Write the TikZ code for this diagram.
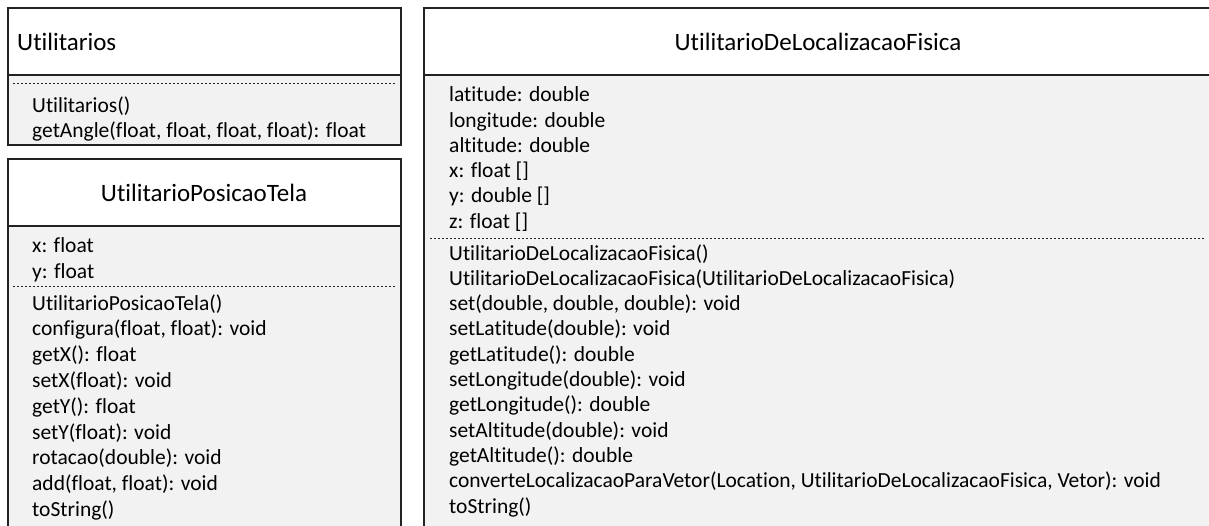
\documentclass[tikz,border=0pt]{standalone}
\usepackage{fontspec}
\setmainfont[Ligatures=NoCommon]{Carlito}
\definecolor{edge}{HTML}{222222}
\definecolor{bodygray}{HTML}{F2F2F2}
\begin{document}
\begin{tikzpicture}[x=1pt,y=-1pt,
  box/.style={draw=edge, line width=2pt},
  sep/.style={draw=edge, line width=0.9pt, dash pattern=on 2.4pt off 1.6pt},
  title/.style={font=\fontsize{25}{30}\selectfont, inner sep=0pt, text=black},
  member/.style={anchor=base west, font=\fontsize{21.5}{25}\selectfont, inner sep=0pt, text=black}]

\clip (0,0) rectangle (1209,525);
\fill[white] (0,0) rectangle (1209,525);

% class Utilitarios
\fill[white] (7.5,7.5) rectangle (401,75);
\fill[bodygray] (7.5,75) rectangle (401,145);
\draw[box] (7.5,7.5) rectangle (401,145);
\draw[box] (7.5,75) -- (401,75);
\draw[sep] (13,83) -- (396,83);
\node[title, anchor=base west] (ut-name) at (17,50) {Utilitarios};
\foreach \m [count=\i] in {Utilitarios(), {getAngle(float, float, float, float): float}}
  \node[member] (ut-op\i) at (32,{112+(\i-1)*25}) {\m};

% class UtilitarioPosicaoTela
\fill[white] (7.5,159) rectangle (401,226);
\fill[bodygray] (7.5,226) rectangle (401,560);
\draw[box] (7.5,159) rectangle (401,560);
\draw[box] (7.5,226) -- (401,226);
\draw[sep] (13,286) -- (396,286);
\node[title, anchor=base] (pt-name) at (204,201.7) {UtilitarioPosicaoTela};
\foreach \m [count=\i] in {x: float, y: float}
  \node[member] (pt-at\i) at (32,{252+(\i-1)*26}) {\m};
\foreach \m [count=\i] in {UtilitarioPosicaoTela(), {configura(float, float): void}, getX(): float,
    setX(float): void, getY(): float, setY(float): void, rotacao(double): void,
    {add(float, float): void}, toString()}
  \node[member] (pt-op\i) at (32,{310+(\i-1)*25.8}) {\m};

% class UtilitarioDeLocalizacaoFisica
\fill[white] (424,7.5) rectangle (1212,75);
\fill[bodygray] (424,75) rectangle (1212,560);
\draw[box] (424,7.5) rectangle (1212,560);
\draw[box] (424,75) -- (1212,75);
\draw[sep] (430,238) -- (1205,238);
\node[title, anchor=base] (lf-name) at (818,50) {UtilitarioDeLocalizacaoFisica};
\foreach \m [count=\i] in {latitude: double, longitude: double, altitude: double,
    x: float [], y: double [], z: float []}
  \node[member] (lf-at\i) at (449,{101.7+(\i-1)*25.3}) {\m};
\foreach \m [count=\i] in {UtilitarioDeLocalizacaoFisica(),
    UtilitarioDeLocalizacaoFisica(UtilitarioDeLocalizacaoFisica),
    {set(double, double, double): void}, setLatitude(double): void,
    getLatitude(): double, setLongitude(double): void, getLongitude(): double,
    setAltitude(double): void, getAltitude(): double,
    {converteLocalizacaoParaVetor(Location, UtilitarioDeLocalizacaoFisica, Vetor): void},
    toString()}
  \node[member] (lf-op\i) at (449,{260+(\i-1)*25.3}) {\m};
\end{tikzpicture}
\end{document}
